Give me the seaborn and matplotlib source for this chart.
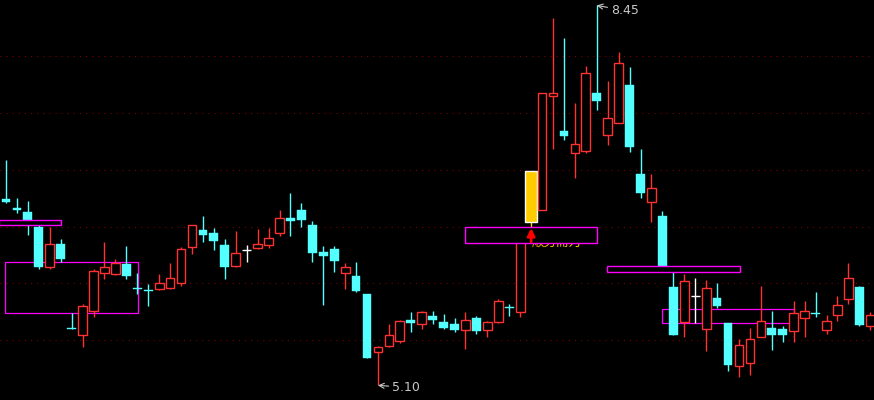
import numpy as np
import pandas as pd
import matplotlib.pyplot as plt
import seaborn as sns
from matplotlib.patches import Rectangle

# daily bars
opens = [6.74, 6.66, 6.63, 6.50, 6.14, 6.35, 5.61, 5.54, 5.76, 6.09,
         6.08, 6.17, 5.96, 5.94, 5.95, 5.96, 6.00, 6.32, 6.47, 6.44,
         6.34, 6.15, 6.29, 6.31, 6.34, 6.44, 6.58, 6.65, 6.51, 6.28,
         6.30, 6.09, 6.06, 5.91, 5.39, 5.45, 5.49, 5.68, 5.64, 5.71,
         5.66, 5.64, 5.59, 5.69, 5.59, 5.66, 5.79, 5.75, 6.54, 6.65,
         7.65, 7.34, 7.15, 7.17, 7.68, 7.31, 7.41, 7.75, 6.96, 6.72,
         6.59, 5.97, 5.66, 5.89, 5.60, 5.87, 5.65, 5.27, 5.30, 5.53,
         5.61, 5.60, 5.58, 5.69, 5.74, 5.59, 5.72, 5.86, 5.97, 5.62]
highs = [7.09, 6.75, 6.73, 6.55, 6.50, 6.39, 5.74, 5.82, 6.13, 6.36,
         6.21, 6.33, 6.09, 5.99, 6.08, 6.18, 6.32, 6.51, 6.59, 6.49,
         6.39, 6.46, 6.34, 6.48, 6.49, 6.65, 6.80, 6.71, 6.55, 6.33,
         6.33, 6.18, 6.19, 5.91, 5.45, 5.64, 5.68, 5.75, 5.76, 5.76,
         5.73, 5.69, 5.75, 5.71, 5.67, 5.86, 5.82, 6.48, 6.99, 7.68,
         8.34, 8.16, 7.59, 7.92, 8.45, 7.78, 8.04, 7.91, 7.18, 6.96,
         6.64, 6.11, 6.08, 6.05, 6.03, 6.00, 5.65, 5.51, 5.61, 5.98,
         5.76, 5.62, 5.84, 5.84, 5.92, 5.72, 5.89, 6.18, 5.98, 5.75]
lows = [6.71, 6.62, 6.43, 6.13, 6.13, 6.19, 5.60, 5.44, 5.70, 6.04,
        6.07, 6.04, 5.91, 5.80, 5.94, 5.95, 5.98, 6.26, 6.36, 6.29,
        6.04, 6.14, 6.19, 6.30, 6.31, 6.42, 6.42, 6.50, 6.19, 5.81,
        6.10, 5.95, 5.92, 5.34, 5.10, 5.44, 5.47, 5.57, 5.60, 5.64,
        5.60, 5.57, 5.42, 5.55, 5.53, 5.65, 5.71, 5.70, 6.50, 6.65,
        7.18, 7.26, 6.93, 7.15, 7.53, 7.22, 7.41, 7.16, 6.75, 6.54,
        6.10, 5.54, 5.53, 5.65, 5.40, 5.78, 5.23, 5.17, 5.19, 5.53,
        5.41, 5.48, 5.48, 5.53, 5.70, 5.55, 5.67, 5.82, 5.62, 5.59]
closes = [6.72, 6.65, 6.56, 6.14, 6.35, 6.21, 5.60, 5.80, 6.11, 6.14,
          6.18, 6.06, 5.95, 5.93, 6.00, 6.05, 6.30, 6.51, 6.43, 6.37,
          6.14, 6.27, 6.29, 6.35, 6.40, 6.58, 6.55, 6.56, 6.27, 6.24,
          6.20, 6.14, 5.93, 5.34, 5.44, 5.54, 5.67, 5.65, 5.75, 5.68,
          5.61, 5.59, 5.68, 5.58, 5.66, 5.84, 5.78, 6.48, 6.99, 7.68,
          7.68, 7.30, 7.23, 7.85, 7.61, 7.46, 7.94, 7.20, 6.80, 6.84,
          6.15, 5.54, 6.02, 5.89, 5.96, 5.80, 5.28, 5.46, 5.51, 5.67,
          5.54, 5.54, 5.74, 5.76, 5.73, 5.67, 5.81, 6.05, 5.63, 5.72]
signal_bar = 48  # highlighted bar (yellow)

# zones: (first bar, last bar, top price, bottom price)
zones_back = [(-0.06, 12.04, 6.185, 5.735), (59.99, 72.06, 5.771, 5.647)]
zones_front = [(-0.6, 5.03, 6.556, 6.511), (41.98, 54.05, 6.494, 6.353),
               (54.96, 67.06, 6.150, 6.097)]
grid_levels = [5.5, 6.0, 6.5, 7.0, 7.5, 8.0]
signal_text = '顺势而为'

df = pd.DataFrame({'open': opens, 'high': highs, 'low': lows, 'close': closes})
df['x'] = np.arange(len(df))

RED = '#FF3232'
CYAN = '#54FFFF'
YELLOW = '#FFCC00'
MAGENTA = '#FF00FF'

sns.set_theme(style='dark', rc={'axes.facecolor': 'black', 'figure.facecolor': 'black'})

fig = plt.figure(figsize=(8.74, 4.0), dpi=100)
ax = fig.add_axes([0, 0, 1, 1])
ax.set_facecolor('black')

for lv in grid_levels:
    ax.axhline(lv, color='#7A0000', lw=0.8, linestyle=(0, (1, 4.5)), zorder=0)

for x0, x1, top, bot in zones_back:
    ax.add_patch(Rectangle((x0, bot), x1 - x0, top - bot, fill=False,
                           edgecolor=MAGENTA, lw=0.9, zorder=1))

w = 0.8
for _, r in df.iterrows():
    x, o, h, l, c = r['x'], r['open'], r['high'], r['low'], r['close']
    if x == signal_bar:
        col = YELLOW
    elif c > o:
        col = RED
    elif c < o:
        col = CYAN
    else:
        col = 'white'
    ax.vlines(x, l, h, color=col, lw=1, zorder=2)
    if x == signal_bar:
        ax.bar(x, c - o, bottom=o, width=1.15, color=YELLOW, zorder=3)
    elif c > o:
        ax.bar(x, c - o, bottom=o, width=w, facecolor='black', edgecolor=RED,
               lw=1, zorder=3)
    elif c < o:
        ax.bar(x, max(o - c, 0.01), bottom=c, width=w, color=CYAN,
               edgecolor=CYAN, lw=0.3, zorder=3)
    else:
        ax.hlines(o, x - w / 2, x + w / 2, color='white', lw=1, zorder=3)

# signal text, mostly covered by the zone box
ax.text(signal_bar, 6.36, signal_text, color=YELLOW, fontsize=9, ha='left',
        va='center', family=['Noto Sans CJK SC', 'DejaVu Sans'], zorder=4)

for x0, x1, top, bot in zones_front:
    ax.add_patch(Rectangle((x0, bot), x1 - x0, top - bot, facecolor='black',
                           edgecolor=MAGENTA, lw=1.0, zorder=5))

ax.annotate('', xy=(signal_bar, 6.487), xytext=(signal_bar, 6.365),
            arrowprops=dict(arrowstyle='-|>', color='red', lw=2,
                            mutation_scale=11, shrinkA=0, shrinkB=0), zorder=6)

# high / low labels
hi_i = int(np.argmax(highs))
lo_i = int(np.argmin(lows))
ax.annotate(f'{highs[hi_i]:.2f}', xy=(hi_i, highs[hi_i]), xytext=(14, -5),
            textcoords='offset pixels', color='#C8C8C8', fontsize=9,
            ha='left', va='center',
            arrowprops=dict(arrowstyle='->', color='#C8C8C8', lw=0.8,
                            shrinkA=0, shrinkB=0), zorder=6)
ax.annotate(f'{lows[lo_i]:.2f}', xy=(lo_i, lows[lo_i]), xytext=(14, -2),
            textcoords='offset pixels', color='#C8C8C8', fontsize=9,
            ha='left', va='center',
            arrowprops=dict(arrowstyle='->', color='#C8C8C8', lw=0.8,
                            shrinkA=0, shrinkB=0), zorder=6)

ax.set_xlim(-0.548, 79.34)
ax.set_ylim(4.971, 8.498)
ax.axis('off')

plt.savefig('out.png', dpi=100, facecolor='black')
